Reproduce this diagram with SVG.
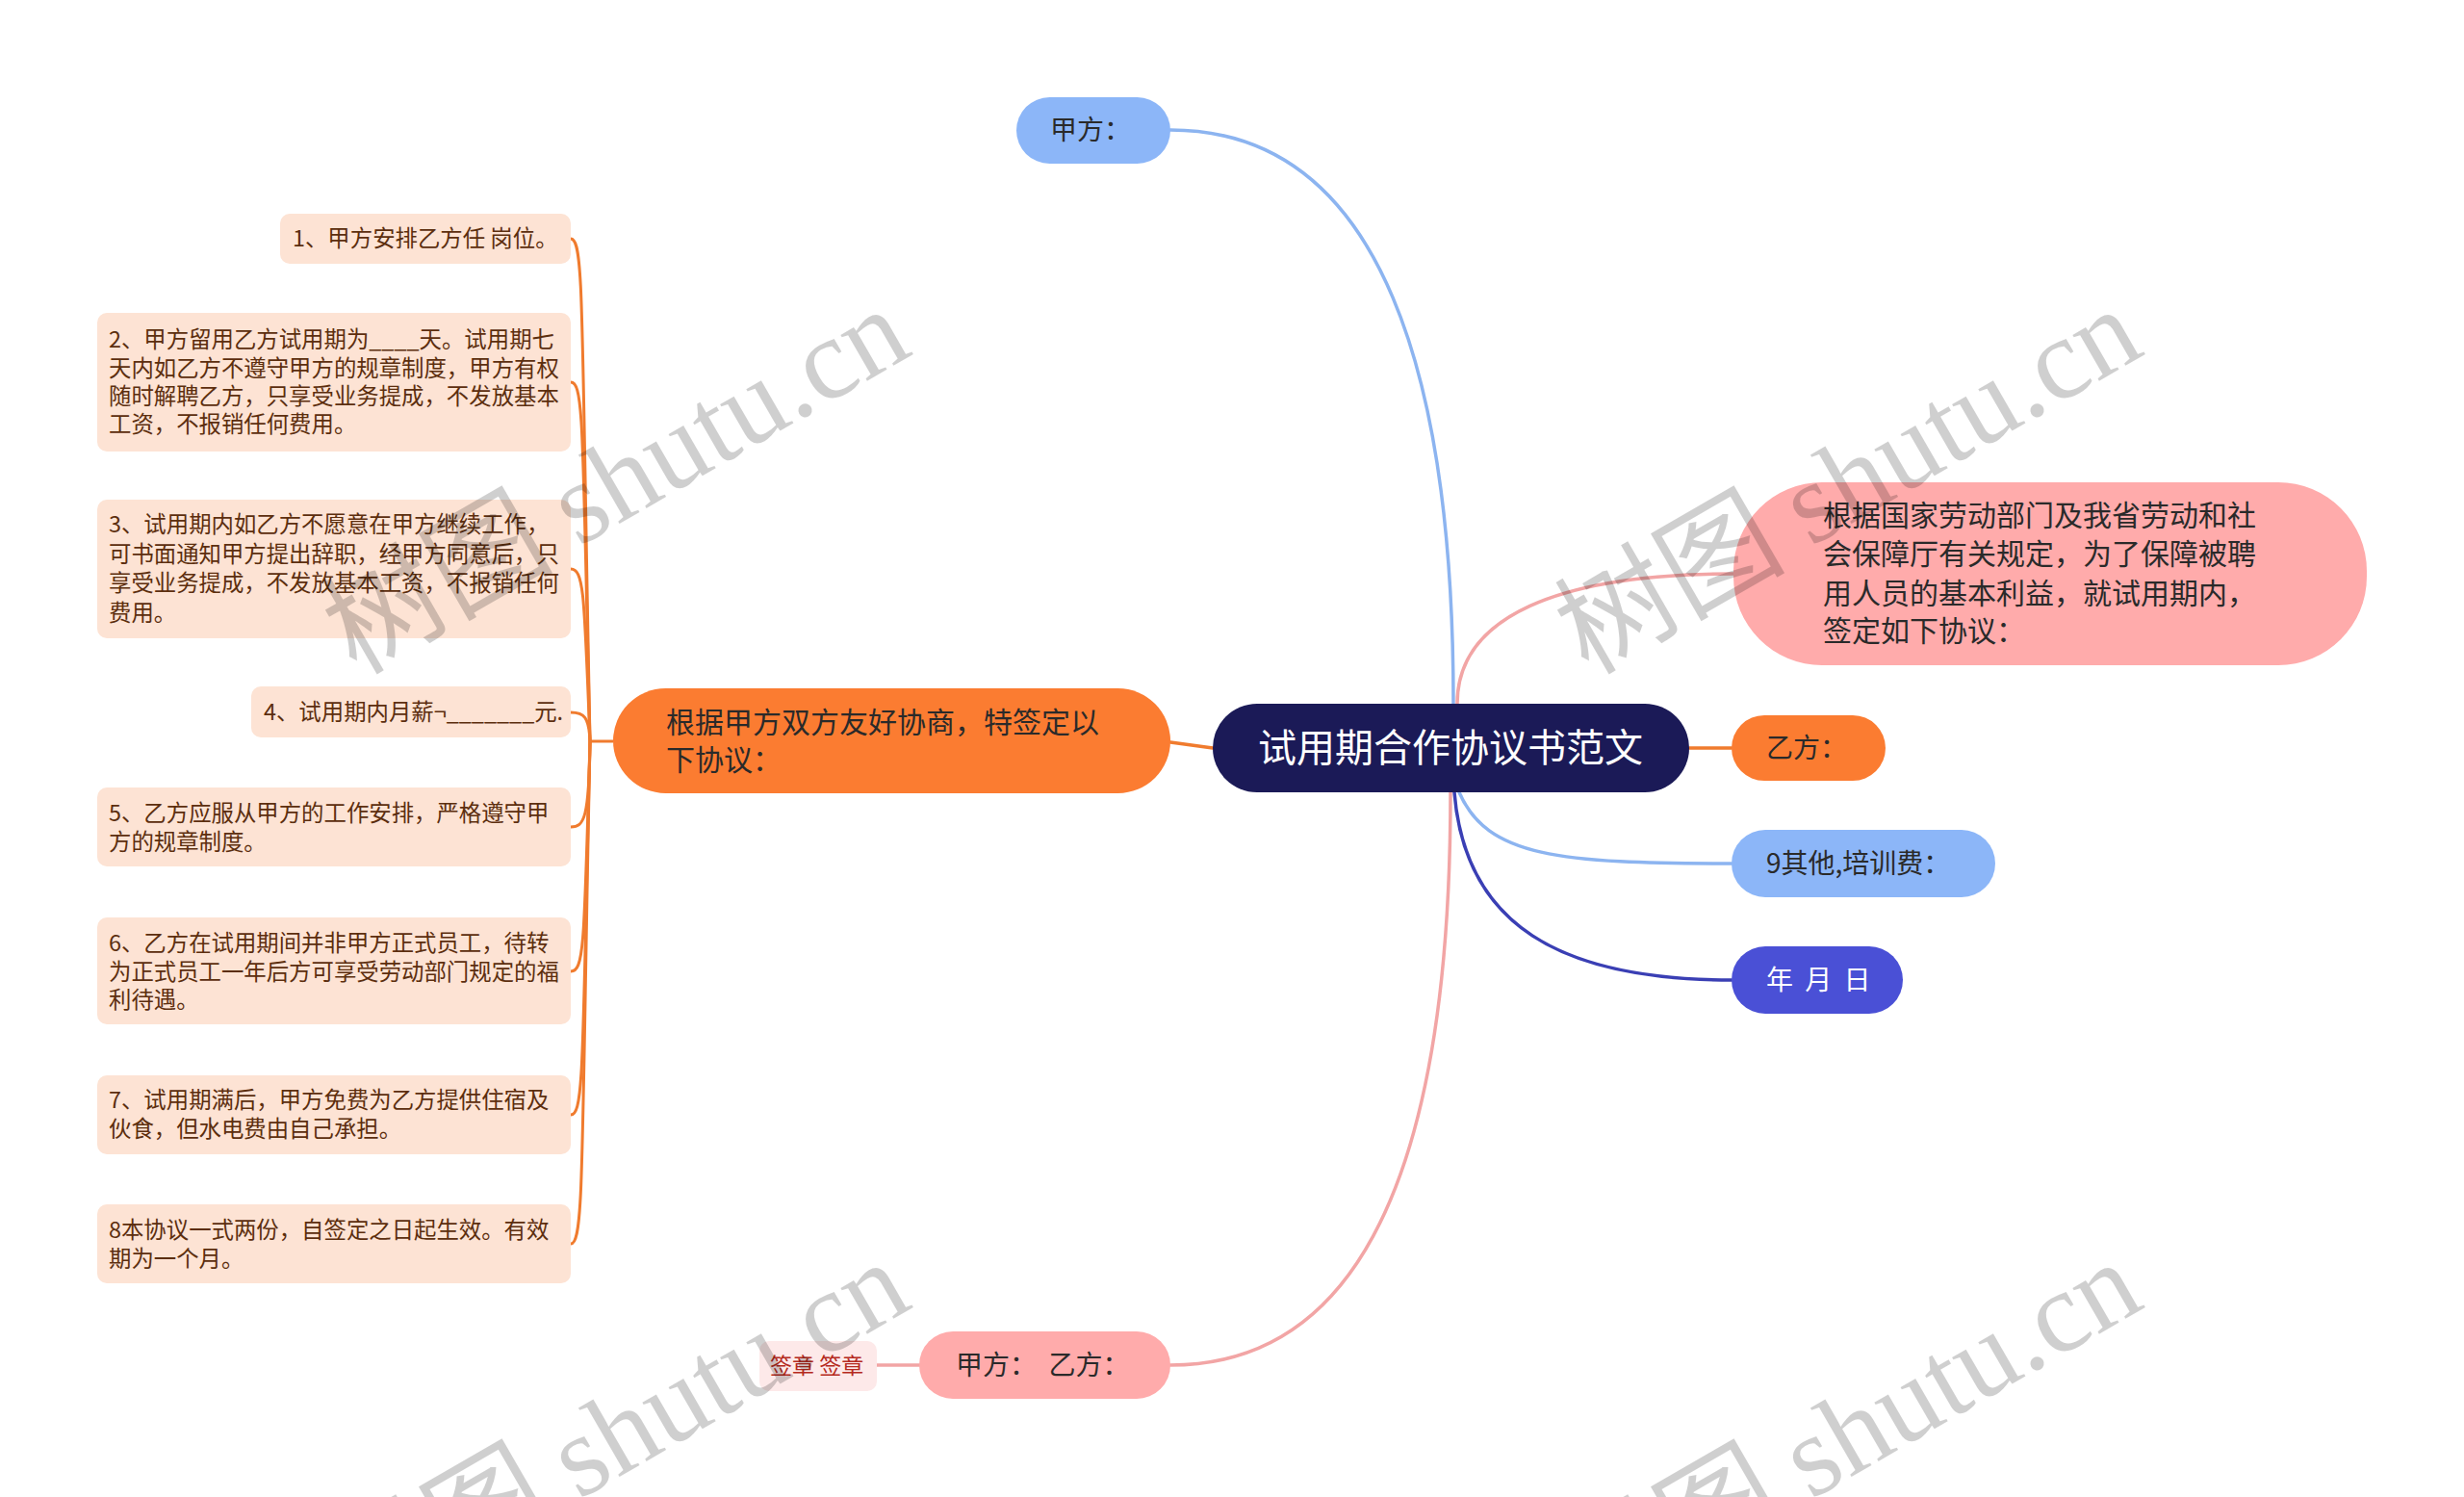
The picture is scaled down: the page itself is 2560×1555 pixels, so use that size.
<svg xmlns="http://www.w3.org/2000/svg" width="2560" height="1555" viewBox="0 0 2560 1555">
<style>
text{font-family:"Noto Sans CJK SC","Noto Sans",sans-serif}
.leaf rect{fill:#fde3d4}
.leaf text{font-size:23.4px;fill:#5c2e0e}
.c{fill:none;stroke-width:3.5;stroke-linecap:round}
.or{stroke:#f07b2e}
.lo{fill:none;stroke:#f07b2e;stroke-width:3}
.t28{font-size:28px;fill:#2a2a2a}
.t30{font-size:30px;fill:#2a2a2a}
.wm{font-size:120px;fill:#000;fill-opacity:0.19}
.wm tspan.l{font-family:"Liberation Serif",serif}
</style>
<rect width="2560" height="1555" fill="#ffffff"/>

<g id="connectors">
<path class="c" stroke="#8cb4f0" d="M1216 135 C1440 135 1510 400 1510 731"/>
<path class="c" stroke="#f2a5a5" d="M1514 731 C1514 640 1620 596 1801 596"/>
<path class="c or" d="M1755 777 L1799 777"/>
<path class="c" stroke="#8cb4f0" d="M1516 823 C1545 890 1620 897 1799 897"/>
<path class="c" stroke="#3a3fb4" d="M1511 823 C1522 960 1620 1018 1799 1018"/>
<path class="c" stroke="#f2a5a5" d="M1507 823 C1507 1200 1420 1418 1216 1418"/>
<path class="c" stroke="#f2a5a5" d="M911 1418 L955 1418"/>
<path class="c or" d="M1260 777 L1216 771"/>
<path class="lo" d="M637 770 L613 770"/>
<path class="lo" d="M593 248 C607 248 604 320 613 770"/>
<path class="lo" d="M593 397 C607 397 605 450 613 770"/>
<path class="lo" d="M593 591 C607 591 607 620 613 770"/>
<path class="lo" d="M593 740 C607 740 612 745 613 770"/>
<path class="lo" d="M593 859 C607 859 612 850 613 770"/>
<path class="lo" d="M593 1009 C607 1009 607 980 613 770"/>
<path class="lo" d="M593 1158 C607 1158 605 1100 613 770"/>
<path class="lo" d="M593 1292 C607 1292 604 1210 613 770"/>
</g>

<g id="n-center">
<rect x="1260" y="731" width="495" height="92" rx="46" fill="#1b1a57"/>
<text x="1507" y="791" font-size="40" fill="#ffffff" text-anchor="middle">试用期合作协议书范文</text>
</g>

<g id="n-jiafang">
<rect x="1056" y="101" width="160" height="69" rx="34.5" fill="#8cb6f8"/>
<text class="t28" x="1091" y="145">甲方：</text>
</g>

<g id="n-basis">
<rect x="1801" y="501" width="658" height="190" rx="92" fill="#ffabab"/>
<text class="t30" x="1894" y="546">根据国家劳动部门及我省劳动和社</text>
<text class="t30" x="1894" y="586">会保障厅有关规定，为了保障被聘</text>
<text class="t30" x="1894" y="627">用人员的基本利益，就试用期内，</text>
<text class="t30" x="1894" y="666">签定如下协议：</text>
</g>

<g id="n-yifang">
<rect x="1799" y="743" width="160" height="68" rx="34" fill="#fb7c31"/>
<text class="t28" x="1835" y="787">乙方：</text>
</g>

<g id="n-other">
<rect x="1799" y="862" width="274" height="70" rx="35" fill="#8cb6f8"/>
<text class="t28" x="1835" y="907">9其他,培训费：</text>
</g>

<g id="n-date">
<rect x="1799" y="983" width="178" height="70" rx="35" fill="#4a50d6"/>
<text x="1835" y="1028" font-size="28" fill="#ffffff" xml:space="preserve" word-spacing="6">年 月 日</text>
</g>

<g id="n-sign">
<rect x="955" y="1383" width="261" height="70" rx="35" fill="#ffabab"/>
<text class="t28" x="993" y="1428" xml:space="preserve">甲方：  乙方：</text>
</g>

<g id="n-seal">
<rect x="789" y="1393" width="122" height="52" rx="10" fill="#fde9e9"/>
<text x="800" y="1427" font-size="23" fill="#b52a20">签章 签章</text>
</g>

<g id="n-agree">
<rect x="637" y="715" width="579" height="109" rx="54.5" fill="#fb7c31"/>
<text class="t30" x="692" y="761">根据甲方双方友好协商，特签定以</text>
<text class="t30" x="692" y="800">下协议：</text>
</g>

<g id="leaf1" class="leaf">
<rect x="291" y="222" width="302" height="52" rx="10"/>
<text x="304" y="256">1、甲方安排乙方任 岗位。</text>
</g>
<g id="leaf2" class="leaf">
<rect x="101" y="325" width="492" height="144" rx="10"/>
<text x="113" y="361">2、甲方留用乙方试用期为____天。试用期七</text>
<text x="113" y="391">天内如乙方不遵守甲方的规章制度，甲方有权</text>
<text x="113" y="420">随时解聘乙方，只享受业务提成，不发放基本</text>
<text x="113" y="449">工资，不报销任何费用。</text>
</g>
<g id="leaf3" class="leaf">
<rect x="101" y="519" width="492" height="144" rx="10"/>
<text x="113" y="553">3、试用期内如乙方不愿意在甲方继续工作，</text>
<text x="113" y="584">可书面通知甲方提出辞职，经甲方同意后，只</text>
<text x="113" y="614">享受业务提成，不发放基本工资，不报销任何</text>
<text x="113" y="645">费用。</text>
</g>
<g id="leaf4" class="leaf">
<rect x="261" y="713" width="332" height="53" rx="10"/>
<text x="274" y="748">4、试用期内月薪¬_______元.</text>
</g>
<g id="leaf5" class="leaf">
<rect x="101" y="818" width="492" height="82" rx="10"/>
<text x="113" y="853">5、乙方应服从甲方的工作安排，严格遵守甲</text>
<text x="113" y="883">方的规章制度。</text>
</g>
<g id="leaf6" class="leaf">
<rect x="101" y="953" width="492" height="111" rx="10"/>
<text x="113" y="988">6、乙方在试用期间并非甲方正式员工，待转</text>
<text x="113" y="1018">为正式员工一年后方可享受劳动部门规定的福</text>
<text x="113" y="1047">利待遇。</text>
</g>
<g id="leaf7" class="leaf">
<rect x="101" y="1117" width="492" height="82" rx="10"/>
<text x="113" y="1151">7、试用期满后，甲方免费为乙方提供住宿及</text>
<text x="113" y="1181">伙食，但水电费由自己承担。</text>
</g>
<g id="leaf8" class="leaf">
<rect x="101" y="1251" width="492" height="82" rx="10"/>
<text x="113" y="1286">8本协议一式两份，自签定之日起生效。有效</text>
<text x="113" y="1316">期为一个月。</text>
</g>

<g id="watermarks">
<text class="wm" transform="translate(370 702) rotate(-30)">树图 <tspan class="l">shutu.cn</tspan></text>
<text class="wm" transform="translate(1650 702) rotate(-30)">树图 <tspan class="l">shutu.cn</tspan></text>
<text class="wm" transform="translate(370 1692) rotate(-30)">树图 <tspan class="l">shutu.cn</tspan></text>
<text class="wm" transform="translate(1650 1692) rotate(-30)">树图 <tspan class="l">shutu.cn</tspan></text>
</g>
</svg>
